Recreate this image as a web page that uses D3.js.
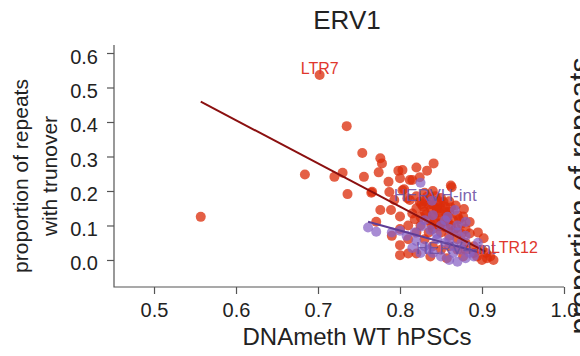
<!DOCTYPE html>
<html>
<head>
<meta charset="utf-8">
<script src="https://cdn.jsdelivr.net/npm/d3@7"></script>
<style>
  body { margin: 0; background: #fff; }
  svg { display: block; font-family: "Liberation Sans", Arial, sans-serif; }
</style>
</head>
<body>
<svg id="chart" width="580" height="356"></svg>
<script>
// values (DNA methylation, proportion with turnover)
const redPoints = [
  [0.557, 0.125], [0.702, 0.536], [0.735, 0.388], [0.754, 0.310], [0.684, 0.248],
  [0.720, 0.241], [0.730, 0.253], [0.756, 0.241], [0.736, 0.191], [0.765, 0.195],
  [0.776, 0.295], [0.778, 0.280], [0.774, 0.254], [0.798, 0.259], [0.803, 0.261],
  [0.820, 0.268], [0.841, 0.280], [0.833, 0.259], [0.786, 0.227], [0.800, 0.237],
  [0.812, 0.232], [0.824, 0.240], [0.805, 0.205], [0.776, 0.145], [0.789, 0.145],
  [0.800, 0.126], [0.812, 0.174], [0.824, 0.169], [0.837, 0.174], [0.849, 0.164],
  [0.857, 0.130], [0.877, 0.126], [0.771, 0.111], [0.800, 0.043], [0.800, 0.014],
  [0.810, 0.019], [0.820, 0.019], [0.837, 0.010], [0.857, 0.005], [0.877, 0.010],
  [0.894, 0.010], [0.906, 0.005], [0.914, 0.000], [0.902, 0.063], [0.885, 0.077],
  [0.863, 0.211], [0.862, 0.216], [0.766, 0.198], [0.787, 0.197], [0.803, 0.202],
  [0.815, 0.232], [0.809, 0.179], [0.793, 0.174], [0.830, 0.170], [0.840, 0.160],
  [0.850, 0.150], [0.820, 0.150], [0.830, 0.140], [0.840, 0.130], [0.850, 0.120],
  [0.860, 0.140], [0.870, 0.130], [0.835, 0.115], [0.845, 0.105], [0.855, 0.095],
  [0.865, 0.085], [0.875, 0.075], [0.840, 0.090], [0.850, 0.080], [0.860, 0.070],
  [0.870, 0.060], [0.880, 0.050], [0.890, 0.040], [0.825, 0.125], [0.815, 0.135],
  [0.820, 0.185], [0.830, 0.195], [0.840, 0.200], [0.850, 0.180], [0.860, 0.170],
  [0.845, 0.145], [0.855, 0.155], [0.865, 0.115], [0.875, 0.105], [0.880, 0.090],
  [0.885, 0.110], [0.895, 0.080], [0.900, 0.030], [0.905, 0.020], [0.910, 0.010],
  [0.900, 0.000], [0.890, 0.020], [0.880, 0.030], [0.870, 0.030], [0.860, 0.040],
  [0.850, 0.030], [0.840, 0.040], [0.830, 0.060], [0.820, 0.080], [0.810, 0.100],
  [0.800, 0.090], [0.790, 0.070], [0.810, 0.060], [0.825, 0.100], [0.835, 0.080],
  [0.828, 0.155], [0.838, 0.148], [0.848, 0.138], [0.858, 0.128], [0.843, 0.185],
  [0.853, 0.168], [0.833, 0.183], [0.868, 0.158], [0.878, 0.148], [0.818, 0.118],
  [0.835, 0.160], [0.845, 0.150], [0.855, 0.140], [0.842, 0.122], [0.852, 0.110],
  [0.862, 0.100], [0.832, 0.132], [0.826, 0.162], [0.846, 0.172], [0.858, 0.112],
  [0.848, 0.098], [0.868, 0.092], [0.838, 0.102], [0.872, 0.118], [0.862, 0.152]
];

const purplePoints = [
  [0.761, 0.094], [0.771, 0.082], [0.825, 0.224], [0.839, 0.172], [0.840, 0.130],
  [0.858, 0.125], [0.867, 0.145], [0.808, 0.070], [0.818, 0.080], [0.826, 0.097],
  [0.837, 0.087], [0.850, 0.100], [0.860, 0.090], [0.870, 0.080], [0.880, 0.070],
  [0.845, 0.060], [0.855, 0.050], [0.865, 0.040], [0.875, 0.030], [0.885, 0.020],
  [0.830, 0.040], [0.840, 0.020], [0.850, 0.010], [0.860, 0.000], [0.870, -0.005],
  [0.880, 0.005], [0.890, 0.010], [0.835, 0.030], [0.825, 0.020], [0.815, 0.035],
  [0.820, 0.055], [0.860, 0.060], [0.870, 0.100], [0.880, 0.110], [0.855, 0.115],
  [0.845, 0.075], [0.830, 0.115], [0.865, 0.020], [0.875, 0.050], [0.895, 0.050],
  [0.800, 0.085], [0.790, 0.080]
];

const redFit = [[0.557, 0.459], [0.904, 0.024]];
const purpleFit = [[0.761, 0.111], [0.894, 0.024]];

const labels = [
  { text: "LTR7", x: 0.702, y: 0.555, size: 16, color: "#e0372d" },
  { text: "HERVH-int", x: 0.843, y: 0.189, size: 17, color: "rgba(110,80,165,0.9)" },
  { text: "HERV4-int", x: 0.868, y: 0.036, size: 17, color: "rgba(110,80,165,0.9)" },
  { text: "LTR12", x: 0.911, y: 0.036, size: 16, color: "#e0372d", anchor: "start" }
];

const xTicks = [0.5, 0.6, 0.7, 0.8, 0.9, 1.0];
const yTicks = [0.0, 0.1, 0.2, 0.3, 0.4, 0.5, 0.6];

const svg = d3.select("#chart");
const m = { left: 114, right: 16, top: 45, bottom: 69 };
const width = +svg.attr("width");
const height = +svg.attr("height");

const x = d3.scaleLinear()
  .domain([0.4512, 1.0])
  .range([m.left, width - m.right]);

const y = d3.scaleLinear()
  .domain([-0.0783, 0.6232])
  .range([height - m.bottom, m.top]);

const axisColor = "#555";

// L-shaped box
svg.append("path")
  .attr("d", `M${m.left},${m.top}V${height - m.bottom}H${width - m.right}`)
  .attr("fill", "none")
  .attr("stroke", axisColor)
  .attr("stroke-width", 1.2);

svg.append("g")
  .attr("transform", `translate(0,${height - m.bottom})`)
  .call(d3.axisBottom(x).tickValues(xTicks).tickSize(7).tickPadding(9)
    .tickFormat(d3.format(".1f")))
  .call(g => g.select(".domain").remove())
  .call(g => g.selectAll(".tick line").attr("stroke", axisColor).attr("stroke-width", 1.2))
  .call(g => g.selectAll(".tick text").attr("font-size", 20).attr("fill", "#222")
    .attr("font-family", null));

svg.append("g")
  .attr("transform", `translate(${m.left},0)`)
  .call(d3.axisLeft(y).tickValues(yTicks).tickSize(7).tickPadding(9)
    .tickFormat(d3.format(".1f")))
  .call(g => g.select(".domain").remove())
  .call(g => g.selectAll(".tick line").attr("stroke", axisColor).attr("stroke-width", 1.2))
  .call(g => g.selectAll(".tick text").attr("font-size", 20).attr("fill", "#222")
    .attr("dy", "0.5em").attr("font-family", null));

// points
svg.append("g")
  .selectAll("circle")
  .data(redPoints)
  .join("circle")
    .attr("cx", d => x(d[0]))
    .attr("cy", d => y(d[1]))
    .attr("r", 5)
    .attr("fill", "rgba(220,45,10,0.76)");

svg.append("g")
  .selectAll("circle")
  .data(purplePoints)
  .join("circle")
    .attr("cx", d => x(d[0]))
    .attr("cy", d => y(d[1]))
    .attr("r", 5)
    .attr("fill", "rgba(135,95,195,0.72)");

const line = d3.line().x(d => x(d[0])).y(d => y(d[1]));

svg.append("path")
  .datum(redFit)
  .attr("d", line)
  .attr("stroke", "#8b1010")
  .attr("stroke-width", 2)
  .attr("fill", "none");

svg.append("path")
  .datum(purpleFit)
  .attr("d", line)
  .attr("stroke", "#5e3c96")
  .attr("stroke-width", 2)
  .attr("fill", "none");

svg.append("g")
  .selectAll("text")
  .data(labels)
  .join("text")
    .attr("x", d => x(d.x))
    .attr("y", d => y(d.y))
    .attr("dy", "0.35em")
    .attr("text-anchor", d => d.anchor || "middle")
    .attr("font-size", d => d.size)
    .attr("fill", d => d.color)
    .text(d => d.text);

// titles
svg.append("text")
  .attr("x", 347)
  .attr("y", 29)
  .attr("text-anchor", "middle")
  .attr("font-size", 26)
  .attr("fill", "#222")
  .text("ERV1");

svg.append("text")
  .attr("x", 357)
  .attr("y", 345)
  .attr("text-anchor", "middle")
  .attr("font-size", 24)
  .attr("fill", "#222")
  .text("DNAmeth WT hPSCs");

const yTitle = svg.append("text")
  .attr("transform", "translate(28,176) rotate(-90)")
  .attr("text-anchor", "middle")
  .attr("font-size", 21)
  .attr("fill", "#222");
yTitle.append("tspan").attr("x", 0).attr("y", 0).text("proportion of repeats");
yTitle.append("tspan").attr("x", 0).attr("y", 29).text("with trunover");

// neighbouring panel's axis title, cut by the edge as in the source figure
svg.append("text")
  .attr("transform", "translate(590,196) rotate(-90)")
  .attr("text-anchor", "middle")
  .attr("font-size", 30)
  .attr("fill", "#222")
  .text("proportion of repeats");
</script>
</body>
</html>
